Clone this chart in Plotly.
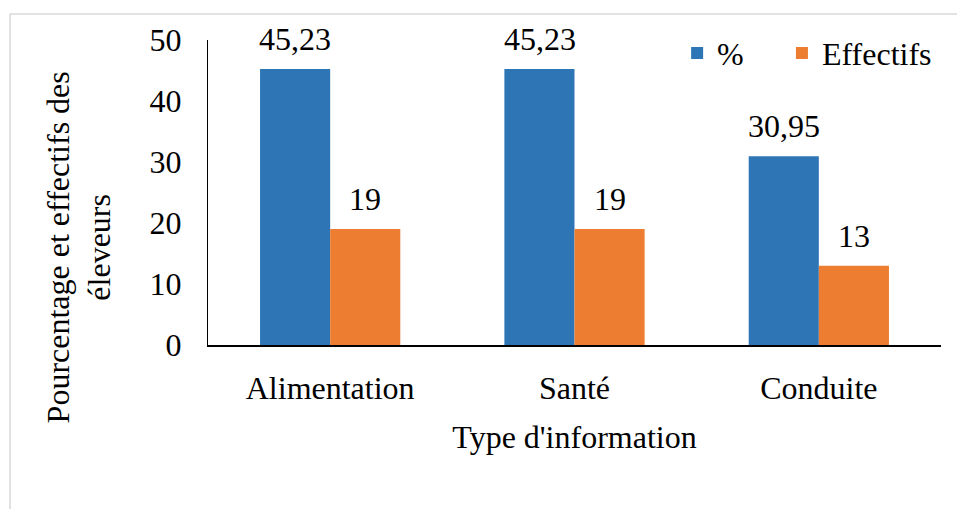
import plotly.graph_objects as go

# Source data
categories = ["Alimentation", "Santé", "Conduite"]
pourcentages = [45.23, 45.23, 30.95]
effectifs = [19, 19, 13]
y_ticks = [0, 10, 20, 30, 40, 50]

FONT = "Times New Roman, Liberation Serif, serif"
BLUE = "#2E75B6"
ORANGE = "#ED7D31"
FS = 32


def fr_num(v):
    # French decimal comma
    if float(v).is_integer():
        return str(int(v))
    return f"{v:.2f}".replace(".", ",")


fig = go.Figure()
fig.add_trace(go.Bar(name="%", x=categories, y=pourcentages, legend="legend",
                     marker=dict(color=BLUE, line=dict(width=0))))
fig.add_trace(go.Bar(name="Effectifs", x=categories, y=effectifs, legend="legend2",
                     marker=dict(color=ORANGE, line=dict(width=0))))

# Value labels above each bar
annotations = []
for series, shift in ((pourcentages, -35), (effectifs, 35)):
    for c, v in zip(categories, series):
        annotations.append(dict(x=c, y=v, xref="x", yref="y", text=fr_num(v),
                                showarrow=False, xshift=shift, yshift=10,
                                yanchor="bottom",
                                font=dict(family=FONT, size=FS, color="black")))

# Two-line vertical axis title
annotations.append(dict(x=-0.176, y=0.32, xref="paper", yref="paper",
                        text="Pourcentage et effectifs des<br>éleveurs",
                        textangle=-90, showarrow=False, xanchor="center",
                        yanchor="middle", align="center",
                        font=dict(family=FONT, size=FS, color="black")))

legend_style = dict(orientation="h", y=0.957, xanchor="left", yanchor="middle",
                    font=dict(family=FONT, size=FS, color="black"),
                    bgcolor="rgba(0,0,0,0)")

fig.update_layout(
    width=957, height=509,
    margin=dict(l=208, r=16, t=40, b=164, autoexpand=False),
    paper_bgcolor="white", plot_bgcolor="white",
    barmode="group", bargap=0.426, bargroupgap=0,
    font=dict(family=FONT, size=FS, color="black"),
    showlegend=True,
    legend=dict(x=0.64, **legend_style),
    legend2=dict(x=0.783, **legend_style),
    annotations=annotations,
    shapes=[dict(type="rect", xref="paper", yref="paper",
                 x0=-0.2701, x1=1.05, y0=-0.6, y1=1.0852,
                 line=dict(color="#d9d9d9", width=1.5), layer="below")],
)

fig.update_xaxes(showline=True, linecolor="black", linewidth=1.5,
                 showgrid=False, ticks="", ticklabelstandoff=14,
                 title=dict(text="Type d'information", standoff=20,
                            font=dict(family=FONT, size=FS)),
                 tickfont=dict(family=FONT, size=FS))
fig.update_yaxes(range=[0, 50], tickvals=y_ticks, showline=True,
                 linecolor="black", linewidth=1.2, showgrid=False,
                 zeroline=False, ticks="", ticklabelstandoff=19,
                 tickfont=dict(family=FONT, size=FS))

fig.write_html("out.html")
